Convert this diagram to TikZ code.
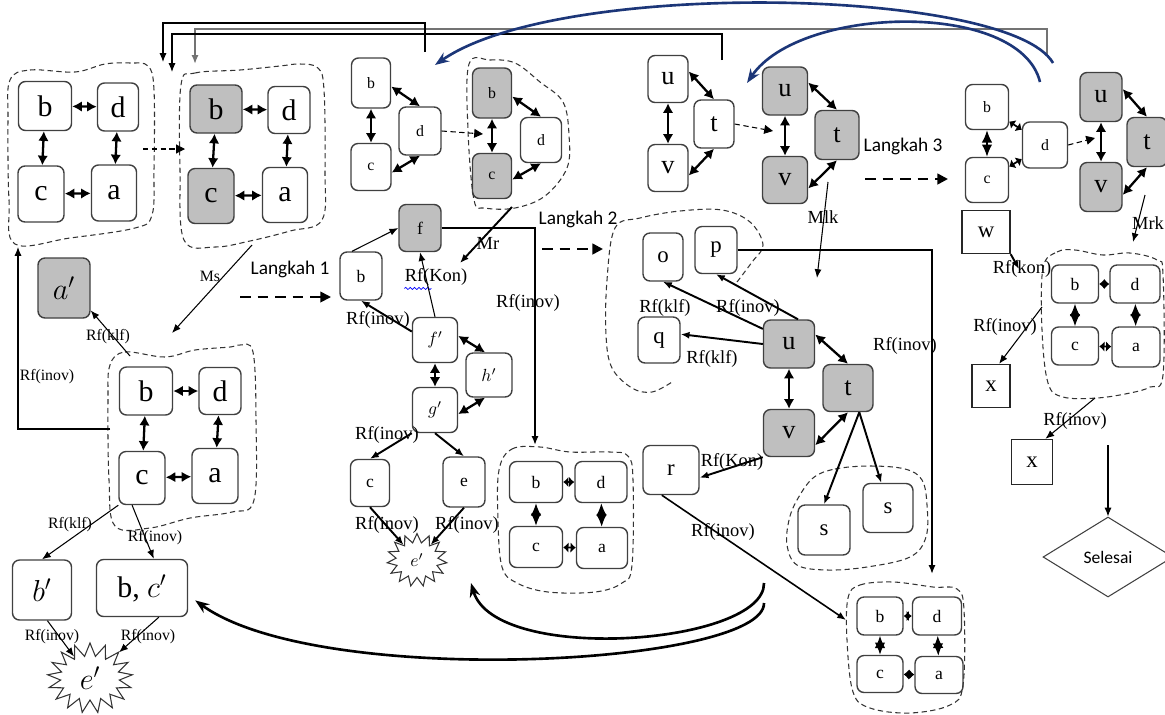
\documentclass[tikz,border=0pt]{standalone}
\usepackage{fontspec}
\setmainfont{Liberation Serif}
\newfontfamily\langfont{Carlito}
\usepackage{tikz}
\usetikzlibrary{arrows.meta,shapes.geometric,shapes.symbols,decorations.pathmorphing}
\definecolor{navy}{RGB}{28,54,120}
\tikzset{
  wh/.style 2 args={minimum width=#1*0.02cm, minimum height=#2*0.02cm},
  bx/.style={draw=black!75, line width=0.8pt, rounded corners=4pt},
  gbx/.style={bx, fill=black!25},
  rbx/.style={draw=black!85, line width=0.8pt},
  big/.style={font=\fontsize{17}{19}\selectfont},
  mid/.style={font=\fontsize{15}{17}\selectfont},
  med/.style={font=\fontsize{13}{15}\selectfont},
  sml/.style={font=\fontsize{10}{12}\selectfont},
  tny/.style={font=\fontsize{9}{11}\selectfont},
  lbl/.style={font=\fontsize{10.5}{12}\selectfont},
  lbs/.style={font=\fontsize{9}{11}\selectfont},
  lang/.style={font=\langfont\fontsize{11}{13}\selectfont},
  burst/.style={starburst, draw=black!80, line width=0.6pt, fill=white, random starburst=0},
  blob/.style={draw=black!80, line width=0.6pt, dash pattern=on 3pt off 2pt},
  dbl/.style={{Latex[length=5.5pt,width=6pt]}-{Latex[length=5.5pt,width=6pt]}, line width=1.3pt},
  dia/.style={{Latex[length=7pt,width=6pt]}-{Latex[length=7pt,width=6pt]}, line width=1pt},
  diah/.style={{Latex[length=3pt,width=6pt]}-{Latex[length=3pt,width=6pt]}, line width=1pt},
  arr/.style={->, line width=0.6pt},
  arrt/.style={->, line width=1.1pt},
  dsh/.style={-{Triangle[length=5pt,width=5pt]}, line width=0.6pt, dash pattern=on 3pt off 2pt},
  dshb/.style={-{Triangle[length=6pt,width=6pt]}, line width=1.4pt, dash pattern=on 6pt off 4pt},
  arc/.style={-{Stealth[length=8pt,width=6pt]}, line width=1.5pt},
  bluarc/.style={arc, draw=navy}}

\begin{document}
\begin{tikzpicture}[
  x=0.02cm, y=-0.02cm,
  >={Latex[length=5pt,width=4pt]},
  every node/.style={inner sep=0pt}]
  \useasboundingbox (0,0) rectangle (1165,714);

  % group 1 and group 2
  \node[bx,big,wh={53}{49}] (g1b) at (45,106) {b};
  \node[bx,big,wh={41}{48}] (g1d) at (118,107) {d};
  \node[bx,big,wh={46}{56}] (g1c) at (41,194) {c};
  \node[bx,big,wh={45}{56}] (g1a) at (114,193) {a};
  \draw[blob] plot[smooth cycle, tension=0.6] coordinates {(10,80) (30,70) (75,72) (105,64) (130,63) (148,66) (154,90) (154,170) (152,215) (135,228) (70,238) (15,244) (9,200) (8,120)};
  \draw[dbl] (g1b) -- (g1d);
  \draw[dbl] (g1b) -- (g1c);
  \draw[dbl] (g1d) -- (g1a);
  \draw[dbl] (g1c) -- (g1a);

  \node[gbx,big,wh={52}{48}] (g2b) at (216,109) {b};
  \node[bx,big,wh={42}{47}] (g2d) at (289,110) {d};
  \node[gbx,big,wh={46}{55}] (g2c) at (211,196) {c};
  \node[bx,big,wh={45}{55}] (g2a) at (285,195) {a};
  \draw[blob] plot[smooth cycle, tension=0.6] coordinates {(181,85) (195,73) (240,70) (280,66) (300,64) (318,68) (324,90) (325,170) (322,220) (290,231) (250,241) (215,247) (184,240) (180,170)};
  \draw[dbl] (g2b) -- (g2d);
  \draw[dbl] (g2b) -- (g2c);
  \draw[dbl] (g2d) -- (g2a);
  \draw[dbl] (g2c) -- (g2a);

  \coordinate (g1e) at (143,149);
  \coordinate (g2w) at (185,149);
  \draw[dsh] (g1e) -- (g2w);

  % feedback lines along the top
  \coordinate (k1) at (425,52);
  \coordinate (in1) at (163,62);
  \coordinate (k2) at (722,60);
  \coordinate (in2) at (172,72);
  \coordinate (k3) at (1047,55);
  \coordinate (in3) at (195,64);
  \draw[arr, draw=black!55, line width=1.1pt] (k3) -- ++(0,-26) -| (in3);
  \draw[arr] (k2) -- ++(0,-26) -| (in2);
  \draw[arr] (k1) -- ++(0,-29) -| (in1);

  % group 6 on the left
  \node[gbx,big,wh={52}{60}] (ap) at (64,288) {$a'$};
  \node[bx,big,wh={53}{48}] (g6b) at (146,391) {b};
  \node[bx,big,wh={42}{47}] (g6d) at (220,391) {d};
  \node[bx,big,wh={46}{53}] (g6c) at (142,478) {c};
  \node[bx,big,wh={46}{55}] (g6a) at (215,476) {a};
  \draw[blob] plot[smooth cycle, tension=0.6] coordinates {(110,365) (125,352) (165,357) (195,350) (230,347) (240,345) (253,352) (256,420) (254,500) (232,512) (190,518) (150,528) (115,526) (109,480) (108,400)};
  \draw[dbl] (g6b) -- (g6d);
  \draw[dbl] (g6b) -- (g6c);
  \draw[dbl] (g6d) -- (g6a);
  \draw[dbl] (g6c) -- (g6a);

  \coordinate (g2s) at (252,245);
  \coordinate (g6n) at (172,333);
  \draw[arr] (g2s) -- (g6n);
  \node[lbs] (lMs) at (210,276) {Ms};

  \coordinate (g6t) at (130,356);
  \draw[arr] (g6t) -- (ap.-40);
  \node[lbs] (lklf1) at (108,337) {Rf(klf)};
  \coordinate (g6w) at (110,429);
  \coordinate (g1s) at (18,247);
  \draw[arr] (g6w) -| (g1s);
  \node[lbs] (linov1) at (47,377) {Rf(inov)};

  \node[bx,big,wh={59}{60}] (bp) at (42,590) {$b'$};
  \node[bx,big,wh={91}{57}] (bcp) at (142,588) {b, $c'$};
  \node[burst,big,minimum width=1.7cm,minimum height=1.4cm,starburst points=17,starburst point height=0.26cm] (ep1) at (90,678) {$e'$};
  \draw[arr] (g6c.south west) -- (bp.north);
  \node[lbs] (lklf2) at (70,525) {Rf(klf)};
  \draw[arr] (g6c.-110) -- (bcp.68);
  \node[lbs] (linov2) at (155,538) {Rf(inov)};
  \draw[arr] (bp.-80) -- (ep1);
  \node[lbs] (linov3) at (52,637) {Rf(inov)};
  \draw[arr] (bcp.-60) -- (ep1);
  \node[lbs] (linov4) at (148,637) {Rf(inov)};

  \node[lang] (lk1) at (290,269) {Langkah 1};
  \coordinate (d1a) at (240,297);
  \coordinate (d1b) at (331,297);
  \draw[dshb, line width=1pt] (d1a) -- (d1b);

  % group 3 and group 4
  \node[bx,tny,wh={39}{50}] (g3b) at (371,83) {b};
  \node[bx,tny,wh={42}{48}] (g3d) at (420,131) {d};
  \node[bx,tny,wh={40}{47}] (g3c) at (371,167) {c};
  \draw[dbl] (g3b) -- (g3c);
  \draw[dbl] (g3b.-10) -- (g3d.north);
  \draw[dbl] (g3c.-15) -- (g3d.south);

  \node[gbx,tny,wh={39}{50}] (g4b) at (492,93) {b};
  \node[bx,tny,wh={41}{45}] (g4d) at (541,140) {d};
  \node[gbx,tny,wh={39}{45}] (g4c) at (492,176) {c};
  \draw[blob] plot[smooth cycle, tension=0.6] coordinates {(469,64) (490,60) (515,63) (540,82) (563,102) (569,135) (567,168) (545,196) (515,208) (485,208) (474,200) (468,130)};
  \draw[dbl] (g4b) -- (g4c);
  \draw[dbl] (g4b.-10) -- (g4d.north);
  \draw[dbl] (g4c.-10) -- (g4d.south);
  \coordinate (g4w) at (483,134);
  \draw[dsh] (g3d.east) -- (g4w);

  % middle chain
  \node[gbx,sml,wh={42}{47}] (f) at (420,228) {f};
  \node[bx,sml,wh={42}{48}] (nb) at (361,276) {b};
  \node[bx,sml,wh={45}{45}] (fp) at (435,340) {$f'$};
  \node[bx,sml,wh={46}{44}] (hp) at (489,375) {$h'$};
  \node[bx,sml,wh={45}{45}] (gp) at (435,410) {$g'$};
  \node[bx,sml,wh={39}{47}] (nc) at (370,483) {c};
  \node[bx,sml,wh={42}{50}] (ne) at (464,482) {e};
  \node[burst,sml,minimum width=1.2cm,minimum height=1.06cm,starburst points=15,starburst point height=0.18cm] (ep2) at (417,560) {$e'$};

  \coordinate (g4s) at (512,207);
  \coordinate (mrE) at (460,263);
  \draw[arrt] (g4s) -- (mrE);
  \node[lbl] (lMr) at (488,243) {Mr};
  \node[lbl] (lKon1) at (436,277) {Rf(Kon)};
  \draw[blue, line width=0.4pt, decorate, decoration={snake, amplitude=0.6pt, segment length=2.5pt}] ([yshift=-1.5pt]lKon1.south west) -- ++(27,0);

  \draw[arr] (nb.110) -- (f.west);
  \coordinate (g5n) at (535,445);
  \draw[arrt, line width=1.4pt] (f.east) -| (g5n);
  \node[lbl] (linov5) at (528,303) {Rf(inov)};
  \draw[arrt] (fp.160) -- (nb.south);
  \node[lbl] (linov6) at (378,320) {Rf(inov)};
  \draw[arr] (fp.north) -- (f.south);
  \draw[dbl] (fp.10) -- (hp.100);
  \draw[dbl] (fp) -- (gp);
  \draw[dbl] (gp.-10) -- (hp.260);
  \draw[arrt] (gp.south west) -- (nc.north);
  \node[lbl] (linov7) at (387,435) {Rf(inov)};
  \draw[arrt] (gp.south) -- (ne.north);
  \draw[arrt] (nc.south) -- (ep2);
  \node[lbl] (linov8) at (387,525) {Rf(inov)};
  \draw[arrt] (ne.south) -- (ep2);
  \node[lbl] (linov9) at (467,525) {Rf(inov)};

  % group 5
  \node[bx,sml,wh={53}{41}] (g5b) at (536,482) {b};
  \node[bx,sml,wh={52}{41}] (g5d) at (601,482) {d};
  \node[bx,sml,wh={53}{41}] (g5c) at (536,547) {c};
  \node[bx,sml,wh={51}{41}] (g5a) at (602,548) {a};
  \draw[blob] plot[smooth cycle, tension=0.6] coordinates {(499,470) (512,449) (540,447) (570,452) (610,452) (628,456) (633,480) (632,565) (622,583) (595,592) (548,592) (517,583) (502,567) (498,520)};
  \draw[diah] (g5b) -- (g5d);
  \draw[dia] (g5b) -- (g5c);
  \draw[dia] (g5d) -- (g5a);
  \draw[diah] (g5c) -- (g5a);

  \node[lang] (lk2) at (578,219) {Langkah 2};
  \coordinate (d2a) at (542,249);
  \coordinate (d2b) at (603,249);
  \draw[dshb] (d2a) -- (d2b);

  % group 7 and group 8
  \node[bx,mid,wh={40}{47}] (g7u) at (668,79) {u};
  \node[bx,mid,wh={40}{48}] (g7t) at (714,124) {t};
  \node[bx,mid,wh={40}{47}] (g7v) at (668,168) {v};
  \draw[dbl] (g7u) -- (g7v);
  \draw[dbl] (g7u.20) -- (g7t.north);
  \draw[dbl] (g7v.-20) -- (g7t.south);
  \coordinate (g8w) at (773,131);
  \draw[dsh] (g7t.east) -- (g8w);

  \node[gbx,mid,wh={45}{48}] (g8u) at (785,91) {u};
  \node[gbx,mid,wh={44}{49}] (g8t) at (837,135) {t};
  \node[gbx,mid,wh={45}{47}] (g8v) at (785,180) {v};
  \draw[dbl] (g8u) -- (g8v);
  \draw[dbl] (g8u.20) -- (g8t.north);
  \draw[dbl] (g8v.-20) -- (g8t.south);

  \node[lang] (lk3) at (903,146) {Langkah 3};
  \coordinate (d3a) at (865,179);
  \coordinate (d3b) at (948,179);
  \draw[dshb] (d3a) -- (d3b);

  % group 9 and group 10
  \node[bx,tny,wh={43}{45}] (g9b) at (987,107) {b};
  \node[bx,tny,wh={45}{46}] (g9d) at (1045,145) {d};
  \node[bx,tny,wh={43}{45}] (g9c) at (987,180) {c};
  \draw[dia] (g9b) -- (g9c);
  \draw[diah] (g9b) -- (g9d);
  \draw[diah] (g9c) -- (g9d);
  \coordinate (g10w) at (1095,138);
  \draw[dsh] (g9d.east) -- (g10w);

  \node[gbx,mid,wh={42}{49}] (g10u) at (1101,97) {u};
  \node[gbx,mid,wh={40}{49}] (g10t) at (1147,142) {t};
  \node[gbx,mid,wh={42}{49}] (g10v) at (1101,187) {v};
  \draw[dbl] (g10u) -- (g10v);
  \draw[dbl] (g10u.20) -- (g10t.north);
  \draw[dbl] (g10v.-20) -- (g10t.south);

  % blue return arcs
  \coordinate (bl1) at (1053,63);
  \coordinate (bl1e) at (435,65);
  \coordinate (bl2) at (1040,82);
  \coordinate (bl2e) at (747,83);
  \draw[bluarc] (bl1) .. controls (1010,-12) and (560,-22) .. (bl1e);
  \draw[bluarc] (bl2) .. controls (1020,0) and (800,5) .. (bl2e);

  % group 11
  \node[bx,med,wh={40}{48}] (o) at (663,257) {o};
  \node[bx,med,wh={42}{47}] (p) at (716,250) {p};
  \node[bx,med,wh={42}{46}] (q) at (659,340) {q};
  \node[gbx,mid,wh={51}{48}] (g11u) at (789,344) {u};
  \node[gbx,mid,wh={50}{47}] (g11t) at (848,388) {t};
  \node[gbx,mid,wh={51}{47}] (g11v) at (789,433) {v};
  \node[bx,med,wh={56}{49}] (r) at (671,470) {r};
  \node[bx,med,wh={52}{50}] (s1) at (824,530) {s};
  \node[bx,med,wh={50}{49}] (s2) at (888,508) {s};
  \draw[blob] plot[smooth, tension=0.6] coordinates {(737,282) (752,262) (763,245) (750,222) (722,210) (680,211) (640,218) (615,228) (607,280) (606,335) (612,368) (632,388) (652,392) (672,382)};
  \draw[blob] plot[smooth cycle, tension=0.6] coordinates {(813,478) (835,469) (870,466) (905,469) (922,480) (927,505) (926,537) (910,557) (867,567) (827,570) (797,565) (787,545) (789,520) (797,500)};

  \coordinate (mlk0) at (828,182);
  \coordinate (mlk1) at (817,278);
  \draw[arr] (mlk0) -- (mlk1);
  \node[lbl] (lMlk) at (823,217) {Mlk};

  \draw[arrt] (g11u.150) -- (o.south);
  \node[lbl] (lklf3) at (665,308) {Rf(klf)};
  \draw[arrt] (g11u.70) -- (p.south);
  \node[lbl] (linov10) at (748,308) {Rf(inov)};
  \draw[arrt] (g11u.west) -- (q.15);
  \node[lbl] (lklf4) at (712,359) {Rf(klf)};
  \draw[dbl] (g11u.20) -- (g11t.north);
  \draw[dbl] (g11u) -- (g11v);
  \draw[dbl] (g11v.-25) -- (g11t.south);
  \draw[arrt] (g11v.south west) -- (r.-15);
  \node[lbl] (lKon2) at (732,462) {Rf(Kon)};
  \draw[arrt] (g11t.-65) -- (s1.north);
  \draw[arrt] (g11t.-65) -- (s2.105);

  % group 12
  \node[bx,sml,wh={46}{38}] (g12b) at (880,616) {b};
  \node[bx,sml,wh={49}{38}] (g12d) at (937,616) {d};
  \node[bx,sml,wh={46}{37}] (g12c) at (880,674) {c};
  \node[bx,sml,wh={48}{37}] (g12a) at (939,675) {a};
  \draw[blob] plot[smooth cycle, tension=0.6] coordinates {(848,598) (860,585) (893,582) (933,587) (957,589) (964,610) (963,685) (950,705) (910,713) (870,708) (853,692) (847,640)};
  \draw[diah] (g12b) -- (g12d);
  \draw[dia] (g12b) -- (g12c);
  \draw[dia] (g12d) -- (g12a);
  \draw[diah] (g12c) -- (g12a);

  \coordinate (g12n) at (932,574);
  \draw[arrt, line width=1.4pt] (p.east) -| (g12n);
  \node[lbl] (linov11) at (905,346) {Rf(inov)};
  \coordinate (g12w) at (846,620);
  \draw[arr, line width=0.9pt] (r.-110) -- (g12w);
  \node[lbl] (linov12) at (723,532) {Rf(inov)};

  % return curves at the bottom
  \coordinate (cv1) at (764,603);
  \coordinate (cv2) at (764,583);
  \coordinate (cv2e) at (471,583);
  \draw[arc] (cv1) .. controls (765,665) and (320,690) .. ([xshift=4pt]bcp.-15);
  \draw[arc] (cv2) .. controls (765,645) and (495,665) .. (cv2e);

  % right column
  \node[rbx,med,wh={48}{43}] (w) at (986,232) {w};
  \node[bx,sml,wh={47}{38}] (g13b) at (1075,284) {b};
  \node[bx,sml,wh={50}{38}] (g13d) at (1135,284) {d};
  \node[bx,sml,wh={47}{38}] (g13c) at (1075,346) {c};
  \node[bx,sml,wh={48}{40}] (g13a) at (1136,347) {a};
  \draw[blob] plot[smooth cycle, tension=0.6] coordinates {(1043,268) (1057,252) (1075,250) (1103,255) (1130,253) (1157,260) (1163,275) (1163,375) (1150,387) (1130,393) (1097,398) (1063,397) (1048,383) (1042,330)};
  \draw[diah] (g13b) -- (g13d);
  \draw[dia] (g13b) -- (g13c);
  \draw[dia] (g13d) -- (g13a);
  \draw[diah] (g13c) -- (g13a);

  \coordinate (mrk0) at (1145,195);
  \coordinate (mrk1) at (1133,242);
  \draw[arr] (mrk0) -- (mrk1);
  \node[lbl] (lMrk) at (1148,223) {Mrk};

  \coordinate (g13w) at (1019,269);
  \draw[arrt] (w.south east) -- (g13w);
  \node[lbl] (lkon3) at (1022,269) {Rf(kon)};

  \node[rbx,med,wh={38}{43}] (x1) at (991,386) {x};
  \node[rbx,med,wh={41}{45}] (x2) at (1032,462) {x};
  \coordinate (g13l) at (1042,307);
  \draw[arr] (g13l) -- (x1.70);
  \node[lbl] (linov13) at (1005,327) {Rf(inov)};
  \coordinate (g13s) at (1095,398);
  \draw[arr] (g13s) -- (x2.60);
  \node[lbl] (linov14) at (1075,421) {Rf(inov)};

  \node[diamond, draw=black!75, line width=0.6pt, aspect=1.6, minimum width=2.6cm, minimum height=1.6cm, font=\langfont\fontsize{10}{12}\selectfont] (sel) at (1108,557) {Selesai};
  \coordinate (selin) at (1108,445);
  \draw[arr] (selin) -- (sel.north);
\end{tikzpicture}
\end{document}
